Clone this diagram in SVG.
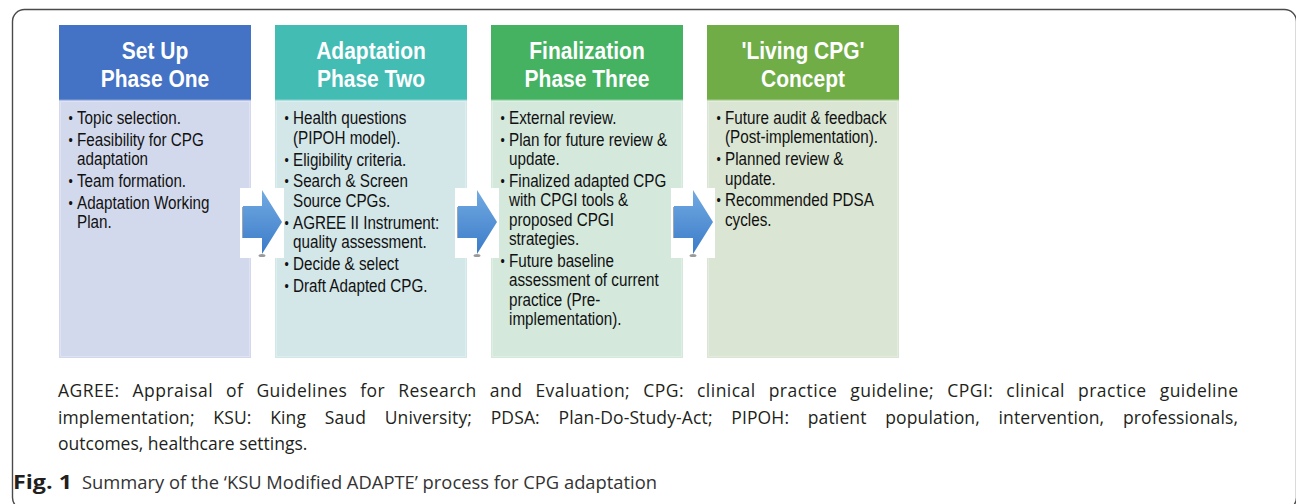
<svg xmlns="http://www.w3.org/2000/svg" width="1296" height="504" viewBox="0 0 1296 504">
<style>
.hd{font-family:"Liberation Sans",Arial,sans-serif;font-weight:bold;font-size:24px;fill:#ffffff;text-anchor:middle}
.bt{font-family:"Liberation Sans",Arial,sans-serif;font-size:17.5px;fill:#111111}
.bl{font-family:"Liberation Sans",Arial,sans-serif;font-size:14px;fill:#111111}
.cap{font-family:"Open Sans","Noto Sans",sans-serif;font-size:17.5px;fill:#231f20}
.fig{font-family:"Open Sans","Noto Sans",sans-serif;font-size:19px;fill:#333333}
.wb{fill:#ffffff}
.arr{fill:url(#ag);stroke:none}
</style>
<defs>
<linearGradient id="ag" x1="0" y1="0" x2="0" y2="1">
<stop offset="0" stop-color="#72aae2"/>
<stop offset="1" stop-color="#3b7bc8"/>
</linearGradient>
</defs>
<rect x="0" y="0" width="1296" height="504" fill="#ffffff"/>
<rect x="12.5" y="9.5" width="1284" height="500" rx="12" ry="12" fill="none" stroke="#4a4a4a" stroke-width="1.4"/>

<g id="phase1">
<rect x="59" y="100" width="192" height="258" fill="#d3d9ec"/>
<rect x="60.5" y="101.5" width="189" height="255" fill="none" stroke="#dfe2f3" stroke-width="1"/>
<rect x="59" y="25" width="192" height="75" fill="#4472c4"/>
<line x1="59" y1="100" x2="251" y2="100" stroke="#8fa7da" stroke-width="1"/>
<g transform="translate(155,0) scale(0.875,1)">
<text class="hd" x="0" y="59">Set Up</text>
<text class="hd" x="0" y="87">Phase One</text>
</g>
<g transform="translate(77,0) scale(0.87,1)">
<text class="bl" x="-9.8" y="123">•</text><text class="bt" x="0" y="124">Topic selection.</text>
<text class="bl" x="-9.8" y="144.8">•</text><text class="bt" x="0" y="145.8">Feasibility for CPG</text>
<text class="bt" x="0" y="165.2">adaptation</text>
<text class="bl" x="-9.8" y="186">•</text><text class="bt" x="0" y="187">Team formation.</text>
<text class="bl" x="-9.8" y="207.8">•</text><text class="bt" x="0" y="208.8">Adaptation Working</text>
<text class="bt" x="0" y="228.2">Plan.</text>
</g>
</g>

<g id="phase2">
<rect x="275" y="100" width="192" height="258" fill="#d3e6e8"/>
<rect x="276.5" y="101.5" width="189" height="255" fill="none" stroke="#ddeef0" stroke-width="1"/>
<rect x="275" y="25" width="192" height="75" fill="#43bcb4"/>
<line x1="275" y1="100" x2="467" y2="100" stroke="#8fd5d0" stroke-width="1"/>
<g transform="translate(371,0) scale(0.875,1)">
<text class="hd" x="0" y="59">Adaptation</text>
<text class="hd" x="0" y="87">Phase Two</text>
</g>
<g transform="translate(293,0) scale(0.87,1)">
<text class="bl" x="-9.8" y="123">•</text><text class="bt" x="0" y="124">Health questions</text>
<text class="bt" x="0" y="143.8">(PIPOH model).</text>
<text class="bl" x="-9.8" y="164.6">•</text><text class="bt" x="0" y="165.6">Eligibility criteria.</text>
<text class="bl" x="-9.8" y="186.4">•</text><text class="bt" x="0" y="187.4">Search &amp; Screen</text>
<text class="bt" x="0" y="206.8">Source CPGs.</text>
<text class="bl" x="-9.8" y="227.6">•</text><text class="bt" x="0" y="228.6">AGREE II Instrument:</text>
<text class="bt" x="0" y="248">quality assessment.</text>
<text class="bl" x="-9.8" y="268.8">•</text><text class="bt" x="0" y="269.8">Decide &amp; select</text>
<text class="bl" x="-9.8" y="290.6">•</text><text class="bt" x="0" y="291.6">Draft Adapted CPG.</text>
</g>
</g>

<g id="phase3">
<rect x="491" y="100" width="192" height="258" fill="#d4e8dc"/>
<rect x="492.5" y="101.5" width="189" height="255" fill="none" stroke="#def0e5" stroke-width="1"/>
<rect x="491" y="25" width="192" height="75" fill="#45b262"/>
<line x1="491" y1="100" x2="683" y2="100" stroke="#90d2a2" stroke-width="1"/>
<g transform="translate(587,0) scale(0.875,1)">
<text class="hd" x="0" y="59">Finalization</text>
<text class="hd" x="0" y="87">Phase Three</text>
</g>
<g transform="translate(509,0) scale(0.87,1)">
<text class="bl" x="-9.8" y="123">•</text><text class="bt" x="0" y="124">External review.</text>
<text class="bl" x="-9.8" y="144.8">•</text><text class="bt" x="0" y="145.8">Plan for future review &amp;</text>
<text class="bt" x="0" y="165.2">update.</text>
<text class="bl" x="-9.8" y="186">•</text><text class="bt" x="0" y="187">Finalized adapted CPG</text>
<text class="bt" x="0" y="206.4">with CPGI tools &amp;</text>
<text class="bt" x="0" y="225.8">proposed CPGI</text>
<text class="bt" x="0" y="245.2">strategies.</text>
<text class="bl" x="-9.8" y="266">•</text><text class="bt" x="0" y="267">Future baseline</text>
<text class="bt" x="0" y="286.4">assessment of current</text>
<text class="bt" x="0" y="305.8">practice (Pre-</text>
<text class="bt" x="0" y="325.2">implementation).</text>
</g>
</g>

<g id="living">
<rect x="707" y="100" width="192" height="258" fill="#dae5d3"/>
<rect x="708.5" y="101.5" width="189" height="255" fill="none" stroke="#e3ecde" stroke-width="1"/>
<rect x="707" y="25" width="192" height="75" fill="#70ad47"/>
<line x1="707" y1="100" x2="899" y2="100" stroke="#a9cf90" stroke-width="1"/>
<g transform="translate(803,0) scale(0.875,1)">
<text class="hd" x="0" y="59">'Living CPG'</text>
<text class="hd" x="0" y="87">Concept</text>
</g>
<g transform="translate(725,0) scale(0.87,1)">
<text class="bl" x="-9.8" y="123">•</text><text class="bt" x="0" y="124">Future audit &amp; feedback</text>
<text class="bt" x="0" y="143.4">(Post-implementation).</text>
<text class="bl" x="-9.8" y="164.2">•</text><text class="bt" x="0" y="165.2">Planned review &amp;</text>
<text class="bt" x="0" y="184.6">update.</text>
<text class="bl" x="-9.8" y="205.4">•</text><text class="bt" x="0" y="206.4">Recommended PDSA</text>
<text class="bt" x="0" y="225.8">cycles.</text>
</g>
</g>

<g id="connectors">
<g id="arrow1">
<rect class="wb" x="240" y="188" width="44" height="70"/>
<ellipse cx="262" cy="255.5" rx="3.5" ry="1.6" fill="#9a9a9a"/>
<line x1="242.5" y1="207" x2="242.5" y2="238" stroke="#9aa6b4" stroke-width="1"/>
<polygon class="arr" points="243,206 262,206 262,190 282,222 262,254 262,238 243,238"/>
</g>
<g id="arrow2">
<rect class="wb" x="455" y="188" width="44" height="70"/>
<ellipse cx="477" cy="255.5" rx="3.5" ry="1.6" fill="#9a9a9a"/>
<line x1="457.5" y1="207" x2="457.5" y2="238" stroke="#9aa6b4" stroke-width="1"/>
<polygon class="arr" points="458,206 477,206 477,190 497,222 477,254 477,238 458,238"/>
</g>
<g id="arrow3">
<rect class="wb" x="671" y="188" width="44" height="70"/>
<ellipse cx="693" cy="255.5" rx="3.5" ry="1.6" fill="#9a9a9a"/>
<line x1="673.5" y1="207" x2="673.5" y2="238" stroke="#9aa6b4" stroke-width="1"/>
<polygon class="arr" points="674,206 693,206 693,190 713,222 693,254 693,238 674,238"/>
</g>
</g>

<g id="caption">
<text class="cap" x="58" y="397" word-spacing="8" textLength="1180" lengthAdjust="spacing">AGREE: Appraisal of Guidelines for Research and Evaluation; CPG: clinical practice guideline; CPGI: clinical practice guideline</text>
<text class="cap" x="58" y="424" word-spacing="14" textLength="1180" lengthAdjust="spacing">implementation; KSU: King Saud University; PDSA: Plan-Do-Study-Act; PIPOH: patient population, intervention, professionals,</text>
<text class="cap" x="58" y="450">outcomes, healthcare settings.</text>
<text class="fig" x="13" y="489"><tspan font-weight="bold" fill="#231f20" textLength="59" lengthAdjust="spacingAndGlyphs">Fig. 1</tspan><tspan x="82" textLength="575" lengthAdjust="spacingAndGlyphs">Summary of the ‘KSU Modified ADAPTE’ process for CPG adaptation</tspan></text>
</g>
</svg>
